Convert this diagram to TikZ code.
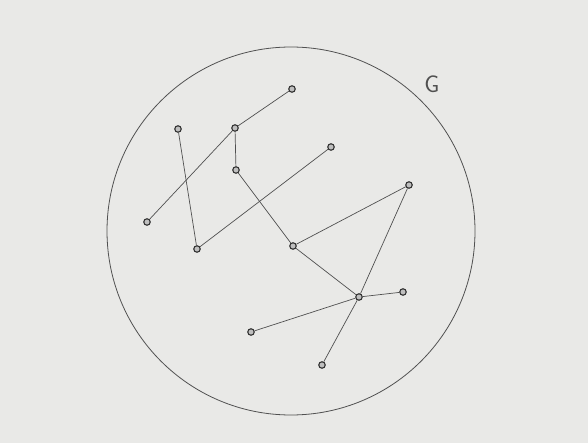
\documentclass[tikz,border=0pt]{standalone}
\usepackage{tikz}
\usetikzlibrary{positioning}
\definecolor{paper}{HTML}{E9E9E7}
\definecolor{pencil}{HTML}{505050}

\begin{document}
\begin{tikzpicture}[x=1pt,y=-1pt,
 v/.style={circle,draw=pencil!60!black,line width=1.1pt,fill=gray!50,inner sep=0pt,minimum size=6.5pt},
 e/.style={draw=pencil,line width=0.7pt},
 lbl/.style={font=\sffamily\fontsize{24}{24}\selectfont,text=pencil}]
\fill[paper] (0,0) rectangle (588,443);
\useasboundingbox (0,0) rectangle (588,443);
\draw[pencil,line width=0.8pt] (291,231) circle (184);
\node[lbl] (G) at (432,84) {G};
% vertices
\node[v] (a) at (292,89) {};
\node[v] (b) at (178,129) {};
\node[v] (c) at (235,128) {};
\node[v] (d) at (331,147) {};
\node[v] (ee) at (236,170) {};
\node[v] (f) at (147,222) {};
\node[v] (g) at (197,249) {};
\node[v] (h) at (293,246) {};
\node[v] (i) at (409,185) {};
\node[v] (j) at (359,297) {};
\node[v] (k) at (403,292) {};
\node[v] (l) at (251,332) {};
\node[v] (m) at (322,365) {};
% edges
\foreach \s/\t in {f/c,c/a,c/ee,b/g,g/d,ee/h,h/i,h/j,i/j,j/k,j/l,j/m}{\path[e] (\s)--(\t);}
\end{tikzpicture}
\end{document}
